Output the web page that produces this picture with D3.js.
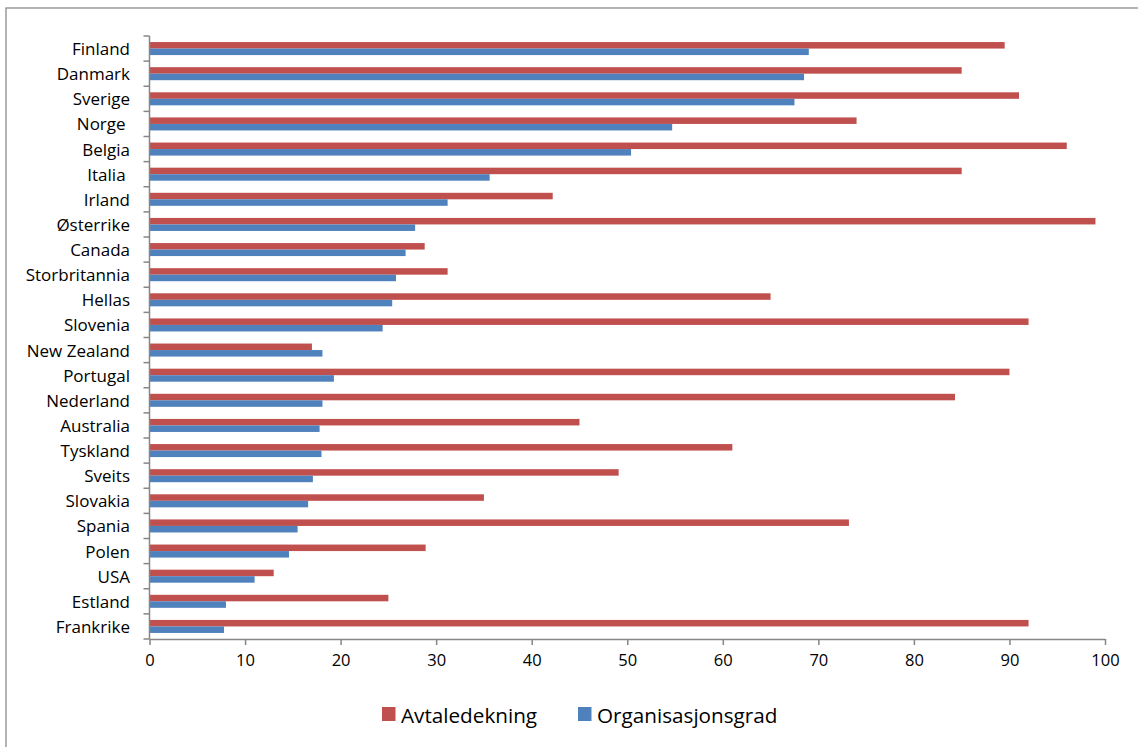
<!DOCTYPE html>
<html>
<head>
<meta charset="utf-8">
<script src="https://cdn.jsdelivr.net/npm/d3@7"></script>
<style>
  html, body { margin: 0; padding: 0; background: #fff; }
  svg { display: block; }
  text { font-family: "Open Sans", sans-serif; fill: #000; }
</style>
</head>
<body>
<script>
// Countries, sorted by union density (top to bottom)
const countries = ["Finland", "Danmark", "Sverige", "Norge ", "Belgia", "Italia ", "Irland", "Østerrike",
  "Canada", "Storbritannia", "Hellas", "Slovenia", "New Zealand", "Portugal", "Nederland", "Australia",
  "Tyskland", "Sveits", "Slovakia", "Spania", "Polen", "USA", "Estland", "Frankrike"];

// Collective agreement coverage (%)
const avtaledekning = [89.5, 85, 91, 74, 96, 85, 42.2, 99, 28.8, 31.2, 65, 92, 17, 90, 84.3, 45,
  61, 49.1, 35, 73.2, 28.9, 13, 25, 92];

// Union density (%)
const organisasjonsgrad = [69, 68.5, 67.5, 54.7, 50.4, 35.6, 31.2, 27.8, 26.8, 25.8, 25.4, 24.4, 18.1, 19.3,
  18.1, 17.8, 18, 17.1, 16.6, 15.5, 14.6, 11, 8, 7.8];

const seriesNames = ["Avtaledekning", "Organisasjonsgrad"];
const seriesColors = ["#C0504D", "#4F81BD"];
const xTicks = [0, 10, 20, 30, 40, 50, 60, 70, 80, 90, 100];

const W = 1138, H = 747;
const plot = { left: 149.5, right: 1105, top: 36, bottom: 639 };

const svg = d3.select("body").append("svg").attr("width", W).attr("height", H);

// chart frame
svg.append("rect")
  .attr("x", 6).attr("y", 8).attr("width", W + 20).attr("height", H + 20)
  .attr("fill", "#fff").attr("stroke", "#8c8c8c").attr("stroke-width", 1.3);

const x = d3.scaleLinear().domain([0, 100]).range([plot.left, plot.right]);
const y = d3.scaleBand().domain(countries).range([plot.top, plot.bottom]).paddingInner(0).paddingOuter(0);
const sub = d3.scaleBand().domain(seriesNames).range([0, y.step()]).paddingInner(0).paddingOuter(0.93);

const rows = countries.map((c, i) => ({ c, vals: [avtaledekning[i], organisasjonsgrad[i]] }));

const g = svg.append("g");
rows.forEach(r => {
  r.vals.forEach((v, k) => {
    g.append("rect")
      .attr("x", x(0))
      .attr("y", y(r.c) + sub(seriesNames[k]))
      .attr("width", x(v) - x(0))
      .attr("height", sub.bandwidth())
      .attr("fill", seriesColors[k]);
  });
});

const axisColor = "#868686";

// category axis
const yAxis = svg.append("g").attr("transform", `translate(${plot.left},0)`);
yAxis.append("line").attr("x1", 0).attr("x2", 0).attr("y1", plot.top).attr("y2", plot.bottom)
  .attr("stroke", axisColor).attr("stroke-width", 1.5);
const boundaries = countries.map(c => y(c)).concat([plot.bottom]);
yAxis.selectAll("line.tick").data(boundaries).join("line").attr("class", "tick")
  .attr("x1", -6).attr("x2", 0).attr("y1", d => d).attr("y2", d => d)
  .attr("stroke", axisColor).attr("stroke-width", 1.5);
svg.append("g").selectAll("text").data(countries).join("text")
  .attr("x", 130).attr("y", d => y(d) + y.step() / 2)
  .attr("text-anchor", "end").attr("dominant-baseline", "central")
  .style("white-space", "pre")
  .attr("font-size", 17)
  .text(d => d);

// value axis
const xAxisG = svg.append("g").attr("transform", `translate(0,${plot.bottom})`)
  .call(d3.axisBottom(x).tickValues(xTicks).tickSize(6).tickSizeOuter(0).tickPadding(9));
xAxisG.select(".domain").attr("stroke", axisColor).attr("stroke-width", 1.5);
xAxisG.selectAll(".tick line").attr("stroke", axisColor).attr("stroke-width", 1.5);
xAxisG.selectAll(".tick text").attr("font-size", 16.5).attr("font-family", "'Open Sans', sans-serif").attr("fill", "#000");

// legend
const legend = svg.append("g");
const legendX = [382, 578];
seriesNames.forEach((s, k) => {
  legend.append("rect").attr("x", legendX[k]).attr("y", 707).attr("width", 13.5).attr("height", 14)
    .attr("fill", seriesColors[k]);
  legend.append("text").attr("x", legendX[k] + 19).attr("y", 714.5)
    .attr("dominant-baseline", "central").attr("font-size", 20.7).text(s);
});
</script>
</body>
</html>
